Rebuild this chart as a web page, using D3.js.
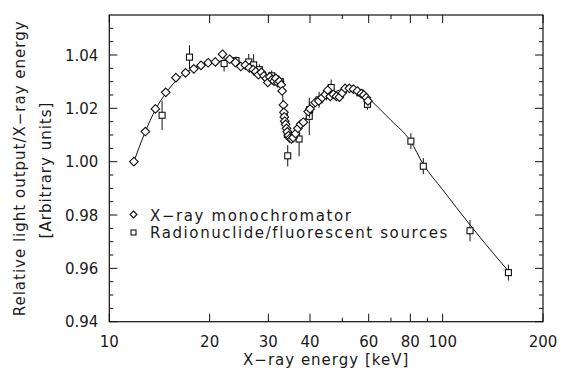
<!DOCTYPE html>
<html>
<head>
<meta charset="utf-8">
<script src="https://cdn.jsdelivr.net/npm/d3@7"></script>
<style>
  body { margin: 0; background: #fff; }
  svg text { font-family: "DejaVu Sans", sans-serif; fill: #1a1a1a; }
</style>
</head>
<body>
<div id="chart"></div>
<script>
// X-ray monochromator points: energy [keV] and relative light output
const monoEnergy = [11.85, 12.83, 13.75, 14.77, 15.84, 16.94, 17.93, 18.84, 19.8, 20.8, 21.86, 22.97,
  23.9, 24.8, 25.6, 26.3, 27.0, 27.5, 28.0, 28.6, 29.1, 29.6, 29.9, 30.3, 30.8, 31.2, 31.6, 32.0, 32.4, 32.8, 33.0,
  33.3, 33.4, 33.5, 33.6, 33.8, 34.0, 34.2, 34.5, 34.8, 35.2, 35.6, 36.2, 36.8, 37.5, 38.2, 39.5, 40.0,
  41.5, 42.5, 43.5, 44.5, 45.2, 46.0, 47.0, 48.0, 49.0, 50.0, 51.0, 52.5, 54.0, 55.5, 57.0, 58.0, 59.0, 59.7];
const monoValue = [1.000, 1.0113, 1.0198, 1.026, 1.0315, 1.0333, 1.0348, 1.0361, 1.0371, 1.0374, 1.0403, 1.0384,
  1.0372, 1.0357, 1.0362, 1.0352, 1.0345, 1.0338, 1.0326, 1.0335, 1.0322, 1.0312, 1.0297, 1.0318, 1.0308, 1.0302, 1.0312, 1.0296, 1.0301, 1.0288, 1.0265,
  1.0213, 1.0185, 1.0168, 1.0152, 1.0140, 1.0125, 1.0112, 1.0098, 1.0088, 1.0085, 1.0090, 1.0105, 1.0125, 1.0140, 1.0148, 1.0188, 1.0198,
  1.0222, 1.0228, 1.0240, 1.0252, 1.0268, 1.0245, 1.0252, 1.0245, 1.0242, 1.0258, 1.0275, 1.0275, 1.0272, 1.0265, 1.0255, 1.0250, 1.0240, 1.0228];

// Radionuclide / fluorescent source points with error bars
const srcEnergy = [14.4, 17.4, 22.1, 24.0, 26.2, 27.1, 28.2, 30.7, 31.6, 32.6, 33.5, 34.2, 34.3, 35.0, 37.1,
  39.8, 39.9, 42.6, 44.8, 46.3, 56.5, 59.5, 80.3, 87.5, 120.8, 157.5];
const srcValue = [1.0174, 1.0392, 1.0368, 1.0379, 1.0374, 1.0363, 1.0345, 1.0322, 1.0310, 1.0300, 1.0175, 1.0102, 1.0022, 1.0098, 1.0085,
  1.0170, 1.0195, 1.0232, 1.0250, 1.0278, 1.0258, 1.0215, 1.0077, 0.9983, 0.9741, 0.9584];
const srcError = [0.0055, 0.0045, 0.003, 0.0015, 0.003, 0.004, 0.002, 0.002, 0.002, 0.0015, 0.002, 0.002, 0.004, 0.002, 0.0065,
  0.007, 0.003, 0.003, 0.002, 0.003, 0.001, 0.002, 0.003, 0.003, 0.004, 0.003];

// fitted curve drawn through the data
const fitEnergy = [11.85, 12.8, 13.75, 14.8, 15.9, 17, 18, 19, 20, 21, 22, 23, 24, 25, 26, 27, 28, 29, 30, 31, 32, 33,
  33.2, 33.5, 34, 34.6, 35.2, 36, 37, 38, 40, 42, 44, 46, 48, 50, 52, 54, 56, 58, 60, 70, 80, 87.5, 100, 121, 140, 158];
const fitValue = [1.000, 1.011, 1.0195, 1.0258, 1.0305, 1.0335, 1.0352, 1.0364, 1.0371, 1.0375, 1.0377, 1.0376, 1.0372, 1.0366,
  1.0358, 1.0349, 1.0339, 1.0329, 1.0319, 1.0309, 1.0300, 1.0293,
  1.0215, 1.0165, 1.0118, 1.0095, 1.0090, 1.0100, 1.0122, 1.0145, 1.0185, 1.0215, 1.0237, 1.0253, 1.0264, 1.0271, 1.0274,
  1.0273, 1.0267, 1.0256, 1.0238, 1.0155, 1.0078, 0.9990, 0.9895, 0.9762, 0.9665, 0.9588];

const xTickValues = [10, 20, 30, 40, 50, 60, 70, 80, 90, 100, 200];
const xTickLabels = [10, 20, 30, 40, 60, 80, 100, 200];
const yTickValues = [0.94, 0.96, 0.98, 1.00, 1.02, 1.04];

const legendLabels = ["X\u2212ray monochromator", "Radionuclide/fluorescent sources"];

const width = 561, height = 373,
      margin = ({top: 15, right: 18, bottom: 51.3, left: 109.3});

const svg = d3.select("#chart").append("svg")
    .attr("width", width).attr("height", height)
    .attr("viewBox", [0, 0, width, height]);

const x = d3.scaleLog()
    .domain([10, 200])
    .range([margin.left, width - margin.right]);

const y = d3.scaleLinear()
    .domain([0.94, 1.055])
    .range([height - margin.bottom, margin.top]);

const x0 = margin.left, x1 = width - margin.right,
      y0 = height - margin.bottom, y1 = margin.top;

// frame
svg.append("rect")
    .attr("x", x0).attr("y", y1)
    .attr("width", x1 - x0).attr("height", y0 - y1)
    .attr("fill", "none").attr("stroke", "#111").attr("stroke-width", 1.2);

// ticks pointing inward on all four sides
const yMinor = d3.range(0.945, 1.055, 0.005).filter(v => Math.abs(Math.round(v * 50) - v * 50) > 1e-6);
const isMajorX = v => xTickLabels.includes(v);

const ticks = svg.append("g").attr("stroke", "#111").attr("stroke-width", 1);
xTickValues.forEach(v => {
  const len = isMajorX(v) ? 8 : 4;
  ticks.append("line").attr("x1", x(v)).attr("x2", x(v)).attr("y1", y0).attr("y2", y0 - len);
  ticks.append("line").attr("x1", x(v)).attr("x2", x(v)).attr("y1", y1).attr("y2", y1 + len);
});
yTickValues.forEach(v => {
  ticks.append("line").attr("x1", x0).attr("x2", x0 + 8).attr("y1", y(v)).attr("y2", y(v));
  ticks.append("line").attr("x1", x1).attr("x2", x1 - 8).attr("y1", y(v)).attr("y2", y(v));
});
yMinor.forEach(v => {
  ticks.append("line").attr("x1", x0).attr("x2", x0 + 4).attr("y1", y(v)).attr("y2", y(v));
  ticks.append("line").attr("x1", x1).attr("x2", x1 - 4).attr("y1", y(v)).attr("y2", y(v));
});

// tick labels
svg.append("g").selectAll("text")
  .data(xTickLabels)
  .join("text")
    .attr("x", d => x(d))
    .attr("y", y0 + 25)
    .attr("text-anchor", "middle")
    .attr("font-size", 15)
    .text(d => d);

svg.append("g").selectAll("text")
  .data(yTickValues)
  .join("text")
    .attr("x", x0 - 11)
    .attr("y", d => y(d) + 5.5)
    .attr("text-anchor", "end")
    .attr("font-size", 15)
    .text(d => d3.format(".2f")(d));

// axis titles
svg.append("text")
    .attr("x", (x0 + x1) / 2)
    .attr("y", height - 8)
    .attr("text-anchor", "middle")
    .attr("font-size", 15)
    .attr("letter-spacing", 1)
    .text("X\u2212ray energy [keV]");

svg.append("text")
    .attr("transform", `translate(25,${(y0 + y1) / 2}) rotate(-90)`)
    .attr("text-anchor", "middle")
    .attr("font-size", 15)
    .attr("letter-spacing", 1)
    .text("Relative light output/X\u2212ray energy");

svg.append("text")
    .attr("transform", `translate(51,170) rotate(-90)`)
    .attr("text-anchor", "middle")
    .attr("font-size", 15)
    .attr("letter-spacing", 1)
    .text("[Arbitrary units]");

// fitted curve
const fit = fitEnergy.map((e, i) => ({e, v: fitValue[i]}));
svg.append("path")
    .datum(fit)
    .attr("fill", "none")
    .attr("stroke", "#111")
    .attr("stroke-width", 1)
    .attr("d", d3.line().x(d => x(d.e)).y(d => y(d.v)).curve(d3.curveMonotoneX));

// source points: error bars and squares
const src = srcEnergy.map((e, i) => ({e, v: srcValue[i], err: srcError[i]}));
const srcG = svg.append("g").selectAll("g").data(src).join("g");
srcG.append("line")
    .attr("x1", d => x(d.e)).attr("x2", d => x(d.e))
    .attr("y1", d => y(d.v - d.err)).attr("y2", d => y(d.v + d.err))
    .attr("stroke", "#111").attr("stroke-width", 1);
srcG.append("rect")
    .attr("x", d => x(d.e) - 3).attr("y", d => y(d.v) - 3)
    .attr("width", 6).attr("height", 6)
    .attr("fill", "#fff").attr("stroke", "#111").attr("stroke-width", 1.1);

// monochromator points: open diamonds
const diamond = (cx, cy, r) => `M${cx},${cy - r}L${cx + r},${cy}L${cx},${cy + r}L${cx - r},${cy}Z`;
const mono = monoEnergy.map((e, i) => ({e, v: monoValue[i]}));
svg.append("g").selectAll("path")
  .data(mono)
  .join("path")
    .attr("d", d => diamond(x(d.e), y(d.v), 4.3))
    .attr("fill", "#fff")
    .attr("stroke", "#111")
    .attr("stroke-width", 1.1);

// legend
const legend = svg.append("g");
legend.append("path")
    .attr("d", diamond(133.5, 214.5, 3.5))
    .attr("fill", "#fff").attr("stroke", "#111").attr("stroke-width", 1.1);
legend.append("rect")
    .attr("x", 131).attr("y", 230).attr("width", 5).attr("height", 5)
    .attr("fill", "#fff").attr("stroke", "#111").attr("stroke-width", 1.1);
legend.selectAll("text")
  .data(legendLabels)
  .join("text")
    .attr("x", 150)
    .attr("y", (d, i) => 220.5 + i * 17.8)
    .attr("font-size", 15)
    .attr("letter-spacing", 1.6)
    .text(d => d);
</script>
</body>
</html>
